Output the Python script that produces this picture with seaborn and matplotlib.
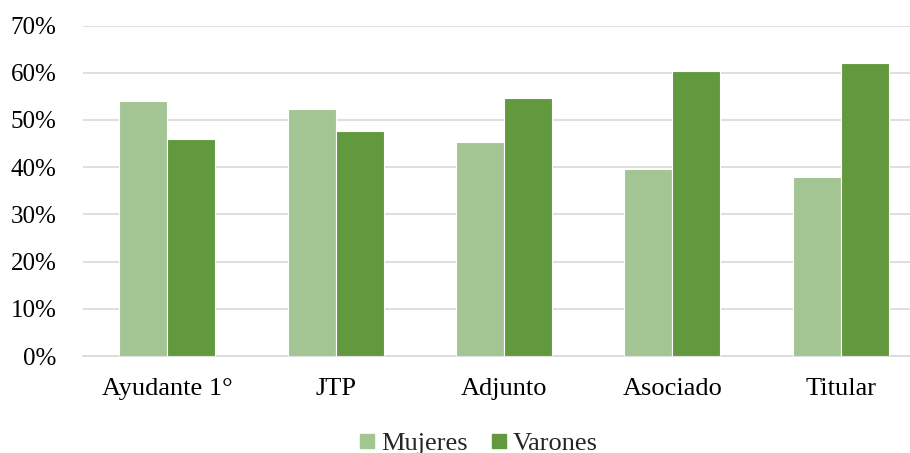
import matplotlib
matplotlib.use("Agg")
import matplotlib.pyplot as plt
import seaborn as sns
import pandas as pd
from matplotlib.ticker import PercentFormatter
from matplotlib.lines import Line2D

categorias = ["Ayudante 1°", "JTP", "Adjunto", "Asociado", "Titular"]
mujeres = [54.1, 52.3, 45.4, 39.7, 38.0]
varones = [45.9, 47.7, 54.6, 60.3, 62.0]
series = ["Mujeres", "Varones"]
colores = ["#A3C493", "#62993E"]

df = pd.DataFrame({
    "cargo": categorias * 2,
    "genero": [series[0]] * len(categorias) + [series[1]] * len(categorias),
    "pct": mujeres + varones,
})

sns.set_theme(style="white")
plt.rcParams["font.family"] = ["Liberation Serif", "DejaVu Serif"]

fig = plt.figure(figsize=(9.1, 4.53), dpi=100)
ax = fig.add_axes([0.0912, 0.214, 0.9253, 0.7296])

sns.barplot(data=df, x="cargo", y="pct", hue="genero", palette=colores,
            saturation=1, width=0.57, edgecolor="white", linewidth=0.8,
            ax=ax, legend=False, zorder=3)

ax.set_ylim(0, 70)
ax.set_yticks(range(0, 71, 10))
ax.yaxis.set_major_formatter(PercentFormatter(decimals=0))
ax.grid(axis="y", color="#D9D9D9", linewidth=1.2, zorder=0)
ax.set_axisbelow(True)
ax.set_xlim(-0.5, len(categorias) - 0.5)
ax.set_xlabel("")
ax.set_ylabel("")
for s in ["top", "right", "left"]:
    ax.spines[s].set_visible(False)
ax.spines["bottom"].set_color("#D9D9D9")
ax.spines["bottom"].set_linewidth(1.2)
ax.tick_params(axis="both", length=0, colors="black")
ax.tick_params(axis="x", labelsize=19, pad=16)
ax.tick_params(axis="y", labelsize=18, pad=19)

handles = [Line2D([], [], marker="s", linestyle="", markersize=10.5,
                  markerfacecolor=c, markeredgecolor=c) for c in colores]
fig.legend(handles, series, loc="center", bbox_to_anchor=(0.526, 0.022),
           ncol=2, frameon=False, fontsize=19, handlelength=0.6,
           handletextpad=0.25, columnspacing=0.85, borderpad=0)

fig.savefig("out.png", dpi=100)
